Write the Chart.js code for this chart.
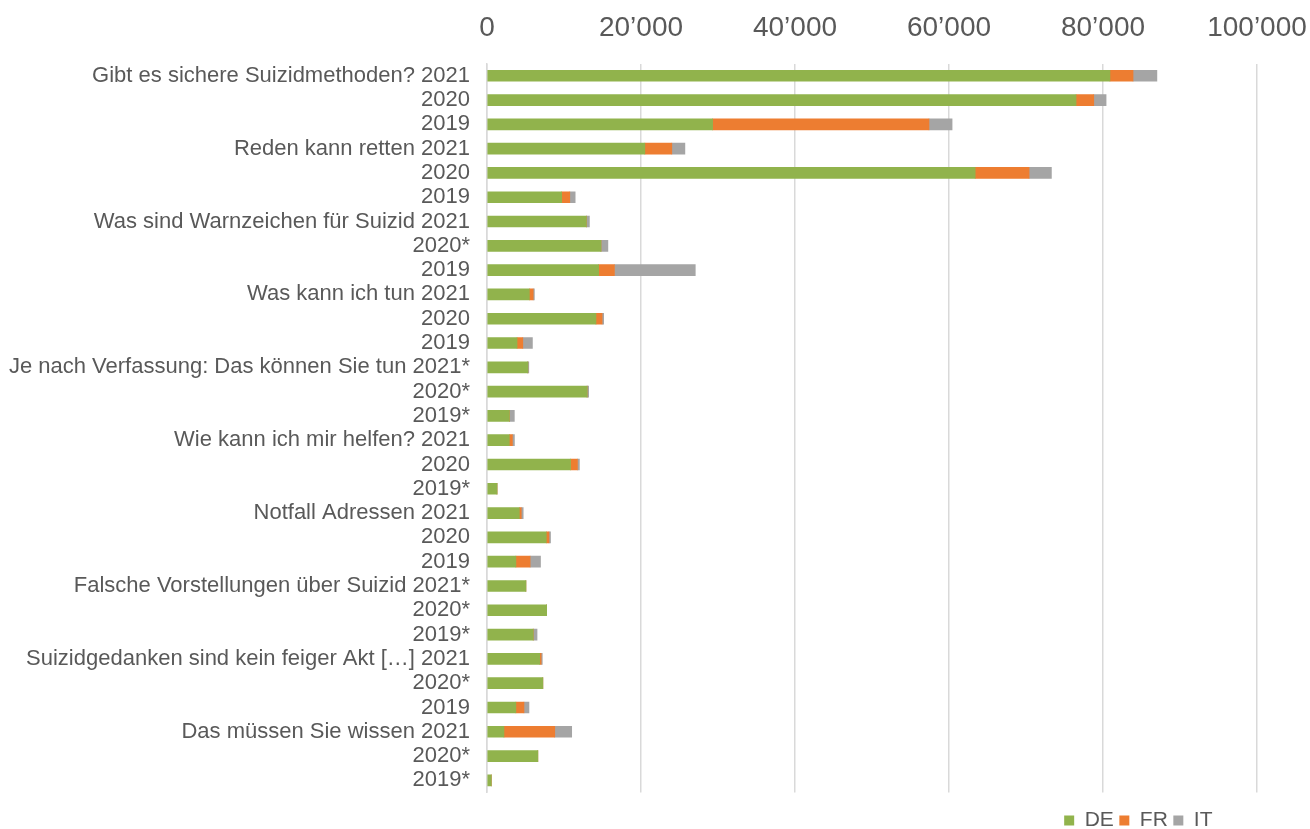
<!DOCTYPE html>
<html>
<head>
<meta charset="utf-8">
<script src="https://cdn.jsdelivr.net/npm/chart.js@4"></script>
<style>
  html, body { margin: 0; padding: 0; background: #fff; }
  #wrap { width: 1310px; height: 829px; }
</style>
</head>
<body>
<div id="wrap"><canvas id="chart"></canvas></div>
<script>
const labels = [
  'Gibt es sichere Suizidmethoden? 2021', '2020', '2019',
  'Reden kann retten 2021', '2020', '2019',
  'Was sind Warnzeichen für Suizid 2021', '2020*', '2019',
  'Was kann ich tun 2021', '2020', '2019',
  'Je nach Verfassung: Das können Sie tun 2021*', '2020*', '2019*',
  'Wie kann ich mir helfen? 2021', '2020', '2019*',
  'Notfall Adressen 2021', '2020', '2019',
  'Falsche Vorstellungen über Suizid 2021*', '2020*', '2019*',
  'Suizidgedanken sind kein feiger Akt […] 2021', '2020*', '2019',
  'Das müssen Sie wissen 2021', '2020*', '2019*'
];
const de = [80900, 76500, 29300, 20500, 63400, 9700, 12900, 14800, 14500, 5500, 14150, 3900,
  5300, 13000, 2900, 2900, 10850, 1300, 4200, 7700, 3750, 5050, 7750, 6000, 6850, 7250, 3750,
  2200, 6600, 550];
const fr = [3000, 2300, 28100, 3500, 7000, 1050, 0, 0, 2050, 500, 800, 750,
  0, 0, 0, 400, 900, 0, 250, 350, 1850, 0, 0, 0, 180, 0, 1050,
  6600, 0, 0];
const it = [3100, 1600, 3000, 1700, 2900, 700, 400, 900, 10500, 150, 200, 1250,
  130, 200, 650, 260, 250, 0, 250, 200, 1350, 0, 0, 500, 150, 0, 650,
  2200, 0, 0];
const xTicks = [0, 20000, 40000, 60000, 80000, 100000];

const textColor = '#595959';
const fmt = v => String(v).replace(/\B(?=(\d{3})+(?!\d))/g, '\u2019');

// move the legend left of the plot's right edge and a bit lower
const legendShift = {
  id: 'legendShift',
  afterLayout(chart) {
    chart.legend.right = 1218;
    chart.legend.top += 12;
  }
};

new Chart(document.getElementById('chart').getContext('2d'), {
  type: 'bar',
  data: {
    labels: labels,
    datasets: [
      { label: 'DE', data: de, backgroundColor: '#91b34c', barThickness: 11 },
      { label: 'FR', data: fr, backgroundColor: '#ed7d31', barThickness: 11 },
      { label: 'IT', data: it, backgroundColor: '#a5a5a5', barThickness: 11 }
    ]
  },
  options: {
    indexAxis: 'y',
    responsive: true,
    maintainAspectRatio: false,
    animation: false,
    layout: { padding: { left: 0, right: 53, top: -8, bottom: 0 } },
    plugins: {
      legend: {
        position: 'bottom',
        align: 'end',
        labels: {
          color: textColor,
          font: { family: 'Liberation Sans', size: 21 },
          boxWidth: 10,
          boxHeight: 10,
          padding: 5.5
        }
      },
      tooltip: { enabled: false }
    },
    scales: {
      x: {
        position: 'top',
        stacked: true,
        min: 0,
        max: 100000,
        afterBuildTicks: s => { s.ticks = xTicks.map(v => ({ value: v })); },
        afterFit: s => { s.paddingRight = 0; },
        ticks: {
          color: textColor,
          font: { family: 'Liberation Sans', size: 28 },
          padding: 19,
          callback: v => fmt(v)
        },
        grid: { color: '#d9d9d9', lineWidth: 1.5, drawTicks: false },
        border: { display: false }
      },
      y: {
        stacked: true,
        afterFit: s => { s.width = 487; },
        ticks: {
          color: textColor,
          font: { family: 'Liberation Sans', size: 22 },
          padding: 9,
          autoSkip: false
        },
        grid: { display: false },
        border: { display: true, color: '#d9d9d9', width: 1.5 }
      }
    }
  },
  plugins: [legendShift]
});
</script>
</body>
</html>
